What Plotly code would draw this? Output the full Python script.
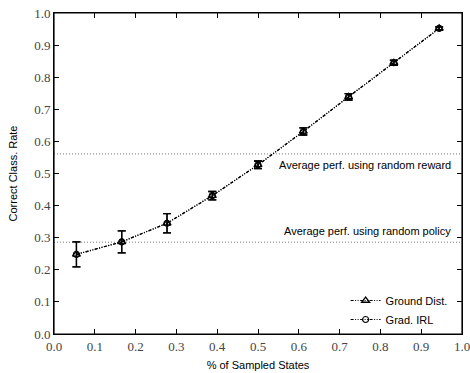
import plotly.graph_objects as go

# Data
sampled = [0.055, 0.166, 0.277, 0.388, 0.5, 0.611, 0.722, 0.833, 0.944]
ground_dist = [0.248, 0.287, 0.345, 0.431, 0.527, 0.631, 0.739, 0.845, 0.952]
ground_err = [0.039, 0.034, 0.030, 0.013, 0.012, 0.011, 0.010, 0.008, 0.005]
grad_irl = [0.248, 0.287, 0.345, 0.431, 0.527, 0.631, 0.739, 0.845, 0.952]
grad_err = [0.039, 0.034, 0.030, 0.013, 0.012, 0.011, 0.010, 0.008, 0.005]
random_reward = 0.561
random_policy = 0.286
x_ticks = [0.0, 0.1, 0.2, 0.3, 0.4, 0.5, 0.6, 0.7, 0.8, 0.9, 1.0]
y_ticks = [0.0, 0.1, 0.2, 0.3, 0.4, 0.5, 0.6, 0.7, 0.8, 0.9, 1.0]

SANS = "Liberation Sans"
SERIF = "Liberation Serif"
DASH = "3px,1.5px,1px,1.5px,1px,1.5px"

fig = go.Figure()

fig.add_trace(go.Scatter(
    x=[0, 1], y=[random_reward, random_reward], mode="lines",
    line=dict(color="#777777", width=1, dash="1px,2px"),
    showlegend=False, hoverinfo="skip"))
fig.add_trace(go.Scatter(
    x=[0, 1], y=[random_policy, random_policy], mode="lines",
    line=dict(color="#777777", width=1, dash="1px,2px"),
    showlegend=False, hoverinfo="skip"))

fig.add_trace(go.Scatter(
    x=sampled, y=ground_dist, mode="lines+markers", name="Ground Dist.",
    line=dict(color="black", width=1.2, dash=DASH),
    marker=dict(symbol="triangle-up-open", size=7, color="black", line=dict(width=1.3)),
    error_y=dict(type="data", array=ground_err, visible=True, color="black",
                 thickness=1.3, width=4)))
fig.add_trace(go.Scatter(
    x=sampled, y=grad_irl, mode="lines+markers", name="Grad. IRL",
    line=dict(color="black", width=1.2, dash=DASH),
    marker=dict(symbol="circle-open", size=6, color="black", line=dict(width=1.2)),
    error_y=dict(type="data", array=grad_err, visible=True, color="black",
                 thickness=1.3, width=4)))

fig.add_annotation(x=0.977, y=0.525, xref="x", yref="y", xanchor="right", yanchor="middle",
                   text="Average perf. using random reward", showarrow=False,
                   font=dict(family=SANS, size=11, color="black"))
fig.add_annotation(x=0.977, y=0.32, xref="x", yref="y", xanchor="right", yanchor="middle",
                   text="Average perf. using random policy", showarrow=False,
                   font=dict(family=SANS, size=11, color="black"))

# frame around the plotting area
fig.add_shape(type="rect", xref="paper", yref="paper", x0=0, x1=1, y0=0, y1=1,
              line=dict(color="black", width=1.2), layer="above")

axis_common = dict(
    showgrid=False, zeroline=False, showline=True, linecolor="black", linewidth=1,
    mirror="ticks", ticks="inside", ticklen=5, tickcolor="black", tickwidth=1,
    tickfont=dict(family=SERIF, size=13, color="#444444"),
    tickformat=".1f", automargin=False, ticklabeloverflow="allow",
)

fig.update_layout(
    width=470, height=373,
    margin=dict(l=54, r=8, t=13, b=39, autoexpand=False),
    paper_bgcolor="white", plot_bgcolor="white",
    xaxis=dict(range=[0, 1], tickvals=x_ticks,
               title=dict(text="% of Sampled States", font=dict(family=SANS, size=11, color="black"),
                          standoff=8),
               **axis_common),
    yaxis=dict(range=[0, 1], tickvals=y_ticks,
               title=dict(text="Correct Class. Rate", font=dict(family=SANS, size=11, color="black"),
                          standoff=14),
               **axis_common),
    legend=dict(x=0.977, y=0.0, xanchor="right", yanchor="bottom",
                bgcolor="rgba(0,0,0,0)", font=dict(family=SANS, size=11, color="black"),
                itemwidth=30, tracegroupgap=0),
    showlegend=True,
)

fig.write_html("out.html", config={"displayModeBar": False},
               post_script="document.body.style.margin='0';")
